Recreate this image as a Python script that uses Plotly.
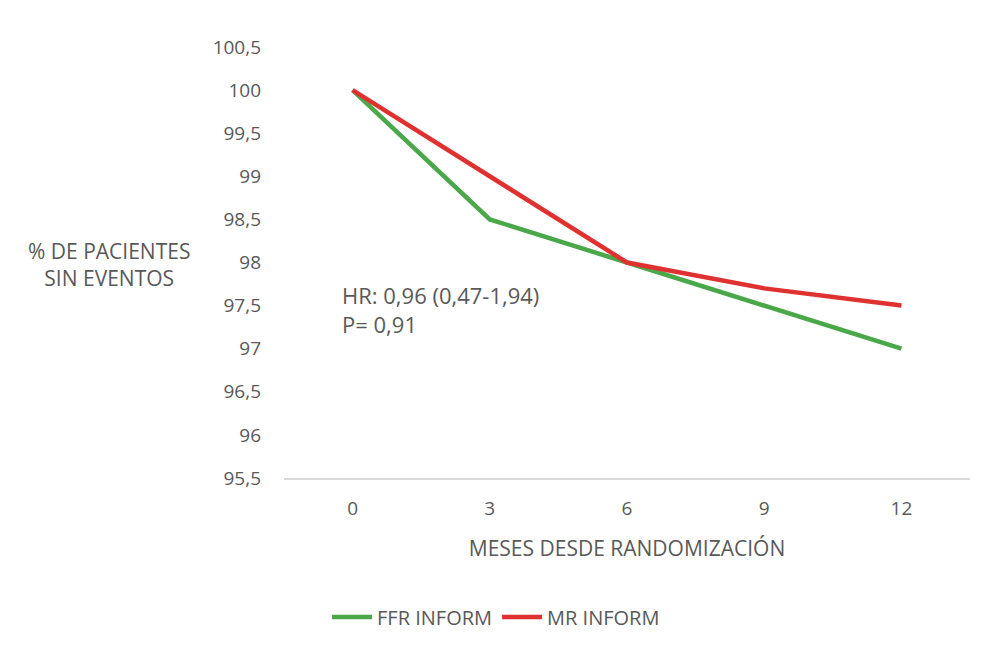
import plotly.graph_objects as go

months = ["0", "3", "6", "9", "12"]
ffr = [100, 98.5, 98, 97.5, 97]
mr = [100, 99, 98, 97.7, 97.5]
yticks = [95.5, 96, 96.5, 97, 97.5, 98, 98.5, 99, 99.5, 100, 100.5]
yticklabels = [str(v).replace(".", ",") if v % 1 else str(int(v)) for v in yticks]

font = "Open Sans"
gray = "#595959"

fig = go.Figure()
fig.add_trace(go.Scatter(x=months, y=ffr, mode="lines", name="FFR INFORM",
                         line=dict(color="#4aa84a", width=4.5)))
fig.add_trace(go.Scatter(x=months, y=mr, mode="lines", name="MR INFORM",
                         line=dict(color="#e03131", width=4.5)))

fig.update_layout(
    width=1000, height=660,
    margin=dict(l=284, r=30, t=47, b=182),
    paper_bgcolor="white", plot_bgcolor="white",
    font=dict(family=font, size=19, color=gray),
    showlegend=True,
    legend=dict(orientation="h", x=(496 - 284) / 686, xanchor="center", y=-0.3225,
                yanchor="middle", font=dict(size=20, color=gray), itemwidth=40),
    xaxis=dict(type="category", range=[-0.5, 4.5], showgrid=False, zeroline=False,
               showline=True, linecolor="#d9d9d9", linewidth=1.5,
               ticks="", ticklabelstandoff=12, tickfont=dict(size=19),
               title=dict(text="MESES DESDE RANDOMIZACIÓN", standoff=22,
                          font=dict(size=21, color=gray))),
    yaxis=dict(range=[95.5, 100.5], tickvals=yticks, ticktext=yticklabels,
               showgrid=False, zeroline=False, showline=False, ticks="",
               ticklabelstandoff=22, tickfont=dict(size=19)),
)

fig.add_annotation(text="% DE PACIENTES<br>SIN EVENTOS", xref="paper", yref="paper",
                   x=-0.255, y=1 - (264 - 47) / 431, xanchor="center", yanchor="middle",
                   showarrow=False, align="center", font=dict(size=21, color=gray))
fig.add_annotation(text="HR: 0,96 (0,47-1,94)<br>P= 0,91", xref="paper", yref="y",
                   x=(340 - 284) / 686, y=97.46, xanchor="left", yanchor="middle",
                   showarrow=False, align="left", font=dict(size=22, color=gray))

fig.write_html("out.html")
